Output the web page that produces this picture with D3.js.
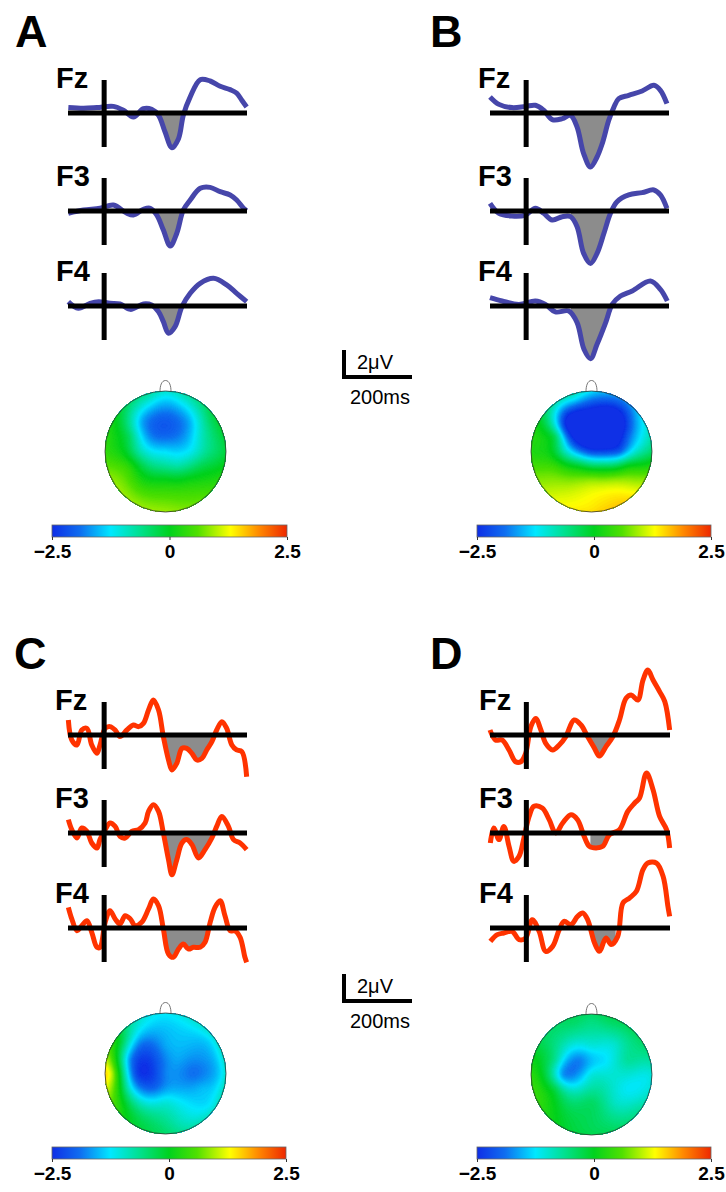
<!DOCTYPE html>
<html>
<head>
<meta charset="utf-8">
<script src="https://cdn.jsdelivr.net/npm/d3@7"></script>
<style>
  body { margin: 0; background: #fff; }
  text { font-family: "Liberation Sans", Arial, sans-serif; }
</style>
</head>
<body>
<svg width="726" height="1192"></svg>
<script>
// waveforms: [time ms, amplitude µV]
const A_Fz = [[-104,0.40],[-60,0.35],[-21,0.40],[27,0.49],[56,0.20],[85,-0.30],[114,0.32],[138,0.27],[158,-0.17],[177,-1.41],[197,-2.57],[216,-1.90],[230,-0.17],[250,1.19],[279,2.47],[308,2.37],[337,1.98],[366,1.73],[385,1.48],[400,0.94],[414,0.44]];
const A_F3 = [[-104,-0.17],[-60,0.07],[-12,0.2],[27,0.44],[66,-0.17],[85,-0.3],[114,0.12],[134,0.2],[153,-0.3],[172,-1.41],[192,-2.59],[211,-1.65],[230,0.07],[250,0.81],[279,1.68],[308,1.75],[337,1.43],[366,1.19],[385,0.81],[405,0.2],[414,0.02]];
const A_F4 = [[-104,0.32],[-75,-0.17],[-41,0.2],[-16,0.32],[17,0.2],[46,0.15],[76,-0.25],[114,0.15],[138,0.07],[158,-0.42],[172,-1.16],[187,-2.02],[206,-1.53],[226,-0.05],[250,0.94],[279,1.68],[318,2.05],[356,1.56],[385,0.94],[414,0.32]];

const B_Fz = [[-105,1.19],[-79,0.64],[-41,0.40],[-2,0.49],[27,0.57],[51,0.2],[76,-0.49],[105,-0.42],[129,-0.17],[148,-1.04],[167,-3.01],[187,-4.0],[206,-3.26],[221,-2.27],[240,-0.54],[255,0.44],[269,1.06],[298,1.31],[337,1.63],[371,2.05],[390,1.68],[409,0.69]];
const B_F3 = [[-105,0.57],[-79,-0.17],[-41,-0.37],[-2,-0.3],[27,0.2],[51,-0.17],[76,-0.67],[105,-0.42],[129,-0.42],[148,-1.16],[167,-3.14],[187,-3.88],[206,-3.14],[226,-1.65],[245,-0.17],[264,0.69],[298,1.19],[337,1.36],[371,1.56],[390,1.19],[409,0.2]];
const B_F4 = [[-105,0.62],[-70,0.37],[-21,0.12],[27,0.37],[56,0.12],[85,-0.44],[124,-0.37],[148,-1.23],[168,-3.2],[187,-3.9],[206,-2.84],[231,-1.23],[250,0.12],[274,0.74],[308,1.11],[361,1.85],[390,1.23],[410,0.37]];

const C_Fz = [[-104,1.11],[-94,-0.37],[-79,-0.74],[-65,0.37],[-50,0.49],[-36,-0.74],[-21,-1.36],[-12,-0.74],[3,0.49],[17,0.62],[32,0.37],[46,-0.12],[66,0.37],[85,0.74],[100,0.62],[114,0.86],[129,1.85],[143,2.59],[158,1.85],[172,-0.12],[187,-1.85],[197,-2.59],[211,-2.1],[226,-0.99],[240,-0.99],[255,-1.36],[269,-1.85],[284,-1.73],[298,-1.11],[313,-0.49],[327,0.37],[342,0.99],[356,0.49],[371,-0.74],[385,-1.11],[400,-1.23],[414,-3.09]];
const C_F3 = [[-104,0.99],[-94,0.25],[-79,-0.37],[-65,0.37],[-50,0.12],[-36,-0.74],[-21,-1.11],[-12,-0.49],[3,0.25],[17,0.74],[32,0.49],[46,-0.25],[61,-0.37],[80,0.12],[100,0.25],[119,0.74],[129,1.6],[143,2.1],[158,1.6],[172,0],[187,-1.98],[197,-3.09],[211,-1.98],[226,-0.74],[240,-0.49],[255,-0.86],[274,-1.85],[293,-1.23],[313,-0.37],[327,0.49],[342,1.23],[361,0.49],[376,-0.49],[395,-0.74],[414,-1.23]];
const C_F4 = [[-104,1.53],[-94,0.67],[-79,-0.2],[-65,0.17],[-50,0.54],[-36,-0.32],[-21,-1.43],[-12,-1.43],[3,0.42],[17,1.28],[32,0.67],[46,0.30],[61,0.91],[76,0.67],[90,0.17],[109,0.42],[129,1.41],[143,2.15],[158,1.65],[172,-0.07],[187,-1.93],[201,-2.17],[216,-1.56],[230,-1.19],[245,-1.56],[259,-1.43],[279,-1.43],[293,-1.06],[308,0.42],[322,1.53],[337,2.02],[351,0.91],[366,-0.2],[380,-0.2],[395,-0.69],[409,-2.17],[414,-2.54]];

const D_Fz = [[-105,0.37],[-89,-0.37],[-70,-0.37],[-50,-1.11],[-31,-1.98],[-16,-1.98],[-2,-1.36],[13,0.62],[27,1.23],[42,0.37],[56,-0.62],[76,-1.11],[95,-0.74],[114,-0.12],[138,1.11],[158,0.74],[177,-0.12],[197,-0.99],[211,-1.56],[230,-0.86],[250,-0.12],[269,1.11],[288,2.72],[303,2.96],[322,2.59],[337,4.07],[351,4.81],[366,4.07],[385,3.21],[400,2.47],[414,0.37]];
const D_F3 = [[-104,-0.74],[-94,0.37],[-79,-0.49],[-65,0.49],[-50,-0.99],[-36,-2.1],[-21,-1.73],[-7,-0.37],[8,1.23],[22,1.98],[46,1.85],[66,0.99],[85,0],[105,0.74],[129,1.36],[148,0.99],[167,-0.25],[182,-0.99],[201,-1.11],[221,-0.99],[240,-0.12],[269,0.25],[293,1.6],[313,2.22],[327,2.59],[347,4.44],[366,3.21],[385,1.23],[405,0.25],[414,-1.11]];
const D_F4 = [[-104,-0.99],[-84,-0.49],[-65,-0.37],[-41,-0.25],[-21,-0.86],[-2,-0.74],[17,0.62],[37,-0.25],[56,-1.73],[76,-1.36],[95,-0.12],[109,0.49],[129,0.25],[148,0.86],[163,1.11],[177,0.62],[197,-1.11],[211,-1.73],[230,-0.74],[245,-1.23],[264,-0.62],[279,1.85],[298,2.22],[318,2.72],[337,4.32],[351,4.81],[376,4.81],[395,3.83],[409,1.6],[414,0.86]];

const channels = ["Fz", "F3", "F4"];
const panelLetters = ["A", "B", "C", "D"];
const shadeWindows = [[140, 240], [130, 255], [170, 320], [185, 258]];  // ms

// topographies (µV) at electrode sites
const elecNames = ["Fp1","Fpz","Fp2","F7","F3","Fz","F4","F8","FC5","FC1","FC2","FC6","T7","C3","Cz","C4","T8","CP5","CP1","CP2","CP6","P7","P3","Pz","P4","P8","O1","Oz","O2"];
const elecX = [-0.29,0,0.29,-0.74,-0.38,0,0.38,0.74,-0.6,-0.2,0.2,0.6,-0.92,-0.46,0,0.46,0.92,-0.6,-0.2,0.2,0.6,-0.74,-0.38,0,0.38,0.74,-0.29,0,0.29];
const elecY = [-0.88,-0.92,-0.88,-0.54,-0.48,-0.46,-0.48,-0.54,-0.24,-0.23,-0.23,-0.24,0,0,0,0,0,0.24,0.23,0.23,0.24,0.54,0.48,0.46,0.48,0.54,0.88,0.92,0.88];
const topoA = [-0.9,-1.2,-1.0,-0.2,-1.6,-2.1,-1.6,-0.4,-0.4,-1.8,-1.8,-0.9,0.3,-0.7,-1.3,-1.1,-0.3,0.3,-0.6,-0.8,-0.3,0.8,0.2,0.0,0.1,0.3,0.8,0.8,0.7];
const topoB = [-1.2,-1.6,-1.9,-0.5,-2.8,-3.2,-3.2,-1.6,-0.4,-2.9,-3.2,-2.0,0.2,-0.8,-2.2,-2.0,-0.6,0.4,-0.2,-0.5,0.0,0.9,0.8,0.8,0.9,1.0,1.3,1.4,1.5];
const topoC = [-1.2,-1.3,-1.2,-0.2,-1.9,-1.6,-1.5,-1.3,-1.6,-2.2,-1.6,-1.7,1.2,-2.3,-1.8,-1.9,-1.3,-1.0,-2.0,-1.6,-1.5,0.2,-1.0,-1.1,-1.3,-1.2,-0.3,-0.5,-0.8];
const topoD = [-0.4,-0.5,-0.4,-0.4,-1.0,-1.1,-1.0,-0.5,-0.7,-1.8,-1.3,-0.7,0.2,-1.7,-1.1,-1.0,-1.1,-0.3,-1.0,-0.8,-1.2,0.2,-0.4,-0.4,-0.9,-0.8,-0.2,-0.3,-0.4];

const cmapStops = [-2.5, -1.9, -1.25, -0.6, 0, 0.6, 1.3, 1.9, 2.5];
const cmapColors = ["#0f2ee6", "#0f6ef0", "#00e8ff", "#00e08a", "#00d21e", "#50e000", "#ffff00", "#ff8a00", "#ee2800"];
const cbarTicks = [-2.5, 0, 2.5];

const svg = d3.select("svg");
const color = d3.scaleLinear().domain(cmapStops).range(cmapColors).clamp(true);

const layout = [
  {letter: [15, 47],  label: 56, wx: [68, 247],  base: 113, topo: [165.5, 451.5], cbar: [52, 287], cy: 525, line: "#4646aa", waves: [A_Fz, A_F3, A_F4], vals: topoA},
  {letter: [430, 47], label: 478, wx: [490, 669], base: 113, topo: [591.5, 451.5], cbar: [477, 711], cy: 525, line: "#4646aa", waves: [B_Fz, B_F3, B_F4], vals: topoB},
  {letter: [14, 669], label: 55, wx: [68, 247],  base: 735, topo: [165.5, 1073.5], cbar: [52, 286], cy: 1147, line: "#ff3300", waves: [C_Fz, C_F3, C_F4], vals: topoC},
  {letter: [430, 669], label: 479, wx: [490, 670], base: 735, topo: [591.5, 1074.5], cbar: [477, 711], cy: 1147, line: "#ff3300", waves: [D_Fz, D_F3, D_F4], vals: topoD}
];
const rowGap = [0, 98, 193];
const uvPx = 13.5;   // px per µV

// colorbar gradient
const defs = svg.append("defs");
const grad = defs.append("linearGradient").attr("id", "cmap");
cmapStops.forEach((s, i) => grad.append("stop")
  .attr("offset", (s + 2.5) / 5)
  .attr("stop-color", cmapColors[i]));

// biharmonic spline (as in topoplot 'v4')
function green(r) { return r > 0 ? r * r * (Math.log(r) - 1) : 0; }
function solve(M, b) {
  const n = b.length;
  const A = M.map((row, i) => row.concat([b[i]]));
  for (let c = 0; c < n; c++) {
    let p = c;
    for (let r = c + 1; r < n; r++) if (Math.abs(A[r][c]) > Math.abs(A[p][c])) p = r;
    [A[c], A[p]] = [A[p], A[c]];
    for (let r = c + 1; r < n; r++) {
      const f = A[r][c] / A[c][c];
      for (let k = c; k <= n; k++) A[r][k] -= f * A[c][k];
    }
  }
  const x = new Array(n).fill(0);
  for (let r = n - 1; r >= 0; r--) {
    let s = A[r][n];
    for (let k = r + 1; k < n; k++) s -= A[r][k] * x[k];
    x[r] = s / A[r][r];
  }
  return x;
}
const G = elecX.map((xi, i) => elecX.map((xj, j) => green(Math.hypot(xi - xj, elecY[i] - elecY[j]))));

layout.forEach((p, pi) => {
  const g = svg.append("g");

  g.append("text")
    .attr("x", p.letter[0]).attr("y", p.letter[1])
    .style("font-size", "45px").style("font-weight", "bold")
    .text(panelLetters[pi]);

  const x = d3.scaleLinear().domain([-105, 415]).range(p.wx);

  p.waves.forEach((data, k) => {
    const base = p.base + rowGap[k];
    const y = d3.scaleLinear().domain([-1, 1]).range([base + uvPx, base - uvPx]);
    const clipId = `win${pi}${k}`;
    const w = shadeWindows[pi];
    defs.append("clipPath").attr("id", clipId)
      .append("rect")
      .attr("x", x(w[0])).attr("width", x(w[1]) - x(w[0]))
      .attr("y", base).attr("height", 120);

    const curve = d3.curveCatmullRom.alpha(0.5);
    g.append("path")
      .datum(data)
      .attr("clip-path", `url(#${clipId})`)
      .attr("fill", "#8c8c8c")
      .attr("d", d3.area().x(d => x(d[0])).y0(y(0)).y1(d => y(d[1])).curve(curve));

    g.append("path")
      .datum(data)
      .attr("fill", "none")
      .attr("stroke", p.line)
      .attr("stroke-width", 5)
      .attr("stroke-linejoin", "round")
      .attr("d", d3.line().x(d => x(d[0])).y(d => y(d[1])).curve(curve));

    g.append("line")
      .attr("x1", p.wx[0]).attr("x2", p.wx[1])
      .attr("y1", y(0)).attr("y2", y(0))
      .attr("stroke", "#000").attr("stroke-width", 5);

    g.append("line")
      .attr("x1", x(0)).attr("x2", x(0))
      .attr("y1", base - 33).attr("y2", base + 34)
      .attr("stroke", "#000").attr("stroke-width", 5);

    g.append("text")
      .attr("x", p.label).attr("y", base - 25)
      .style("font-size", "29px").style("font-weight", "bold")
      .text(channels[k]);
  });

  // topographic map
  const [cx, cy] = p.topo, r = 60.5, n = 130;
  const wts = solve(G, p.vals);
  const grid = new Array(n * n);
  for (let j = 0; j < n; j++) {
    for (let i = 0; i < n; i++) {
      const gx = -1 + 2 * i / (n - 1), gy = -1 + 2 * j / (n - 1);
      let v = 0;
      for (let e = 0; e < wts.length; e++) v += wts[e] * green(Math.hypot(gx - elecX[e], gy - elecY[e]));
      grid[j * n + i] = Math.max(-2.5, Math.min(2.5, v));
    }
  }
  const thresholds = d3.range(-2.5, 2.5, 0.04);
  const contours = d3.contours().size([n, n]).thresholds(thresholds)(grid);
  const proj = d3.geoIdentity().scale(2 * r / (n - 1)).translate([cx - r - r / (n - 1), cy - r - r / (n - 1)]);
  const path = d3.geoPath(proj);
  const headId = `head${pi}`;
  defs.append("clipPath").attr("id", headId)
    .append("circle").attr("cx", cx).attr("cy", cy).attr("r", r);

  g.append("g").attr("clip-path", `url(#${headId})`)
    .selectAll("path")
    .data(contours)
    .join("path")
    .attr("d", path)
    .attr("fill", d => color(d.value + 0.02))
    .attr("stroke", d => color(d.value + 0.02))
    .attr("stroke-width", 0.4);

  g.append("circle")
    .attr("cx", cx).attr("cy", cy).attr("r", r)
    .attr("fill", "none").attr("stroke", "#333").attr("stroke-width", 0.8);

  g.append("path")
    .attr("d", `M${cx - 5.5},${cy - r + 0.3} C${cx - 5.5},${cy - r - 5} ${cx - 4},${cy - r - 10.5} ${cx},${cy - r - 10.5} C${cx + 4},${cy - r - 10.5} ${cx + 5.5},${cy - r - 5} ${cx + 5.5},${cy - r + 0.3}`)
    .attr("fill", "none").attr("stroke", "#555").attr("stroke-width", 0.8);

  // colorbar
  const cs = d3.scaleLinear().domain([-2.5, 2.5]).range(p.cbar);
  g.append("rect")
    .attr("x", p.cbar[0]).attr("y", p.cy)
    .attr("width", p.cbar[1] - p.cbar[0]).attr("height", 12)
    .attr("fill", "url(#cmap)")
    .attr("stroke", "#666").attr("stroke-width", 0.8);

  const ax = g.append("g")
    .attr("transform", `translate(0,${p.cy + 12})`)
    .call(d3.axisBottom(cs).tickValues(cbarTicks).tickSize(3).tickFormat(d3.format("")));
  ax.select(".domain").remove();
  ax.selectAll("line").attr("stroke", "#333");
  ax.selectAll("text")
    .attr("dy", null).attr("y", 21)
    .style("font-family", "'Liberation Sans', Arial, sans-serif")
    .style("font-size", "19px").style("font-weight", "bold")
    .attr("fill", "#000");
});

// calibration bars
[0, 624].forEach(off => {
  const g = svg.append("g").attr("transform", `translate(0,${off})`);
  g.append("path")
    .attr("d", `M344,350 V377 H412`)
    .attr("fill", "none").attr("stroke", "#000").attr("stroke-width", 4);
  g.append("text").attr("x", 357).attr("y", 369)
    .style("font-size", "20px").text("2μV");
  g.append("text").attr("x", 350).attr("y", 404)
    .style("font-size", "20px").text("200ms");
});
</script>
</body>
</html>
